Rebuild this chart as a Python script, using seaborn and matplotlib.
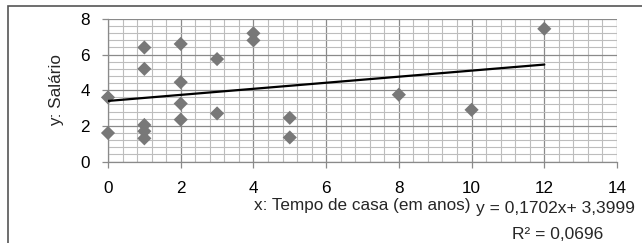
import matplotlib
matplotlib.use("Agg")
import matplotlib.pyplot as plt
import seaborn as sns
import pandas as pd
import numpy as np
from matplotlib.ticker import MultipleLocator
from matplotlib.patches import Rectangle

# tempo de casa (anos) e salário
tempo = [0, 0, 1, 1, 1, 1, 1, 2, 2, 2, 2, 3, 3, 4, 4, 5, 5, 8, 10, 12]
salario = [3.6, 1.6, 6.4, 5.2, 2.05, 1.7, 1.3, 6.6, 4.45, 3.25, 2.35,
           5.75, 2.7, 7.2, 6.8, 2.45, 1.35, 3.75, 2.9, 7.45]

# linha de tendência (Excel)
slope = 0.1702
intercept = 3.3999
eq_text = "y = 0,1702x+ 3,3999"
r2_text = "R\u00b2 = 0,0696"

df = pd.DataFrame({"tempo": tempo, "salario": salario})

sns.set_style("white")
plt.rcParams["font.family"] = ["Liberation Sans", "DejaVu Sans"]

fig = plt.figure(figsize=(6.42, 2.43), dpi=100)
ax = fig.add_axes([108 / 642, 1 - 161.5 / 243, (617 - 108) / 642, (161.5 - 19) / 243])

# grade
ax.xaxis.set_major_locator(MultipleLocator(2))
ax.yaxis.set_major_locator(MultipleLocator(2))
ax.xaxis.set_minor_locator(MultipleLocator(0.4))
ax.yaxis.set_minor_locator(MultipleLocator(0.4))
ax.grid(which="minor", color="#bdbdbd", linewidth=0.8)
ax.grid(which="major", color="#8a8a8a", linewidth=0.9)
ax.set_axisbelow(True)

sns.scatterplot(data=df, x="tempo", y="salario", marker="D", s=52,
                color="#787878", edgecolor="none", ax=ax, zorder=3,
                clip_on=False)

xs = np.array([0, max(tempo)])
sns.lineplot(x=xs, y=slope * xs + intercept, color="black", linewidth=1.6,
             ax=ax, zorder=4)

ax.set_xlim(0, 14)
ax.set_ylim(0, 8)

for side in ["top", "right"]:
    ax.spines[side].set_visible(False)
for side in ["left", "bottom"]:
    ax.spines[side].set_color("#8a8a8a")
    ax.spines[side].set_linewidth(0.9)

ax.tick_params(which="major", length=4, color="#8a8a8a", width=0.9,
               labelsize=12.3, colors="black")
ax.tick_params(which="minor", length=0)
ax.tick_params(axis="x", which="major", pad=10, direction="out", bottom=True)
ax.tick_params(axis="y", which="major", pad=9, direction="out", left=True)

ax.set_ylabel("y: Salário", fontsize=12.3, labelpad=12)
ax.set_xlabel("x: Tempo de casa (em anos)", fontsize=12.3, labelpad=1.5)

fig.text(476 / 642, 1 - 213 / 243, eq_text, fontsize=12.5, ha="left",
         va="baseline")
fig.text(512 / 642, 1 - 239 / 243, r2_text, fontsize=12.5, ha="left",
         va="baseline")

# moldura externa
fig.patches.append(Rectangle((8 / 642, -0.1), 1.2, 1 - 6 / 243 + 0.1,
                             transform=fig.transFigure, fill=False,
                             edgecolor="#555555", linewidth=1.2))

fig.savefig("out.png", dpi=100)
